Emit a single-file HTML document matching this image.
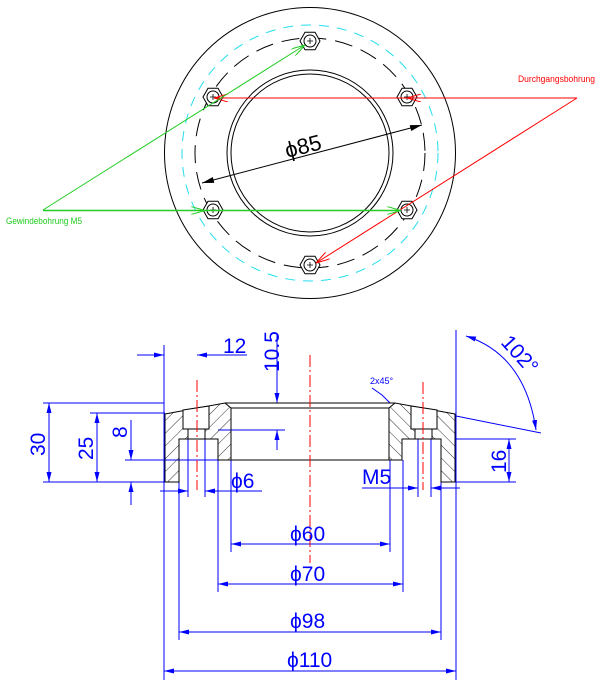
<!DOCTYPE html>
<html><head><meta charset="utf-8"><style>
html,body{margin:0;padding:0;background:#fff;}
svg{display:block;}
.d{font-family:"Liberation Sans",sans-serif;fill:#0000ff;font-size:21px;font-weight:300;}
</style></head><body>
<svg width="604" height="692" viewBox="0 0 604 692" xmlns="http://www.w3.org/2000/svg">
<defs>
<marker id="a" viewBox="0 0 10 6" refX="10" refY="3" markerWidth="10" markerHeight="6" markerUnits="userSpaceOnUse" orient="auto-start-reverse"><path d="M0,0.5 L10,3 L0,5.5z" fill="#0000ff"/></marker>
<marker id="k" viewBox="0 0 12 6" refX="12" refY="3" markerWidth="12" markerHeight="6" markerUnits="userSpaceOnUse" orient="auto-start-reverse"><path d="M0,0 L12,3 L0,6z" fill="#000"/></marker>
<marker id="r" viewBox="0 0 14 8" refX="14" refY="4" markerWidth="14" markerHeight="8" markerUnits="userSpaceOnUse" orient="auto"><path d="M0,0 L14,4 L0,8" fill="none" stroke="#f00" stroke-width="1"/></marker>
<marker id="g" viewBox="0 0 14 8" refX="14" refY="4" markerWidth="14" markerHeight="8" markerUnits="userSpaceOnUse" orient="auto"><path d="M0,0 L14,4 L0,8" fill="none" stroke="#2c2" stroke-width="1"/></marker>
<pattern id="h" width="9" height="9" patternUnits="userSpaceOnUse" patternTransform="rotate(45)"><line x1="0" y1="0" x2="0" y2="9" stroke="#000" stroke-width="0.8"/></pattern>
<g id="hx"><polygon points="10,0 5,8.7 -5,8.7 -10,0 -5,-8.7 5,-8.7" fill="#fff" stroke="#000" stroke-width="1"/><circle r="6" fill="none" stroke="#000" stroke-width="1"/><path d="M-3,0H3M0,-3V3" stroke="#000" stroke-width="0.8"/></g>
</defs>

<!-- TOP VIEW -->
<g fill="none" stroke="#000" stroke-width="1">
<circle cx="310" cy="153" r="145.5"/>
<circle cx="310" cy="153" r="128" stroke="#22ddee" stroke-dasharray="10,8"/>
<circle cx="310" cy="153" r="115" stroke-dasharray="18,9"/>
<circle cx="310" cy="153" r="83"/>
<circle cx="310" cy="153" r="79"/>
</g>
<use href="#hx" x="310" y="41"/>
<use href="#hx" x="213" y="97"/>
<use href="#hx" x="407" y="97"/>
<use href="#hx" x="213" y="210"/>
<use href="#hx" x="407" y="210"/>
<use href="#hx" x="310" y="265"/>
<line x1="202" y1="183" x2="422" y2="125" stroke="#000" stroke-width="1" marker-start="url(#k)" marker-end="url(#k)"/>
<text x="0" y="0" transform="translate(287,158) rotate(-14)" font-family="Liberation Sans,sans-serif" font-size="22" font-weight="300" fill="#000">ϕ85</text>

<!-- red -->
<g stroke="#f00" stroke-width="1" fill="none">
<line x1="577" y1="98" x2="407" y2="98" marker-end="url(#r)"/>
<line x1="407" y1="98" x2="214" y2="98" marker-end="url(#r)"/>
<line x1="577" y1="98" x2="316" y2="263" marker-end="url(#r)"/>
</g>
<text x="518" y="82" font-family="Liberation Sans,sans-serif" font-size="9" fill="#f00" textLength="77" lengthAdjust="spacingAndGlyphs">Durchgangsbohrung</text>
<!-- green -->
<g stroke="#2c2" stroke-width="1" fill="none">
<line x1="43" y1="210" x2="305" y2="45" marker-end="url(#g)"/>
<line x1="43" y1="210.5" x2="205" y2="210.5" stroke-width="1.5" marker-end="url(#g)"/>
<line x1="205" y1="210.5" x2="401" y2="210.5" stroke-width="1.5" marker-end="url(#g)"/>
</g>
<text x="6" y="224" font-family="Liberation Sans,sans-serif" font-size="9" fill="#2c2" textLength="76" lengthAdjust="spacingAndGlyphs">Gewindebohrung M5</text>

<!-- SECTION VIEW -->
<!-- extension & dimension lines (blue) -->
<g stroke="#0000ff" stroke-width="1" fill="none">
<line x1="164" y1="345" x2="164" y2="680"/>
<line x1="456" y1="330" x2="456" y2="680"/>
<line x1="179" y1="482" x2="179" y2="640"/>
<line x1="441" y1="482" x2="441" y2="640"/>
<line x1="218" y1="460" x2="218" y2="592"/>
<line x1="403" y1="460" x2="403" y2="592"/>
<line x1="231" y1="460" x2="231" y2="552"/>
<line x1="390" y1="460" x2="390" y2="552"/>
<line x1="188" y1="429" x2="188" y2="497"/>
<line x1="205" y1="429" x2="205" y2="497"/>
<line x1="418" y1="429" x2="418" y2="497"/>
<line x1="431" y1="429" x2="431" y2="497"/>
<line x1="43" y1="403" x2="164" y2="403"/>
<line x1="43" y1="482" x2="164" y2="482"/>
<line x1="90" y1="413" x2="165" y2="413"/>
<line x1="125" y1="460" x2="218" y2="460"/>
<line x1="218" y1="430" x2="285" y2="430"/>
<line x1="456" y1="439" x2="516" y2="439"/>
<line x1="456" y1="482" x2="516" y2="482"/>
<line x1="456" y1="416" x2="541" y2="433"/>
<line x1="49" y1="403" x2="49" y2="482" marker-start="url(#a)" marker-end="url(#a)"/>
<line x1="97" y1="413" x2="97" y2="482" marker-start="url(#a)" marker-end="url(#a)"/>
<line x1="131" y1="420" x2="131" y2="460" marker-end="url(#a)"/>
<line x1="131" y1="505" x2="131" y2="482" marker-end="url(#a)"/>
<line x1="277" y1="335" x2="277" y2="403" marker-end="url(#a)"/>
<line x1="277" y1="450" x2="277" y2="430" marker-end="url(#a)"/>
<line x1="509" y1="439" x2="509" y2="482" marker-start="url(#a)" marker-end="url(#a)"/>
<line x1="137" y1="355" x2="164" y2="355" marker-end="url(#a)"/>
<line x1="247" y1="355" x2="197" y2="355" marker-end="url(#a)"/>
<line x1="160" y1="491" x2="188" y2="491" marker-end="url(#a)"/>
<line x1="262" y1="491" x2="205" y2="491" marker-end="url(#a)"/>
<line x1="362" y1="488" x2="418" y2="488" marker-end="url(#a)"/>
<line x1="460" y1="488" x2="431" y2="488" marker-end="url(#a)"/>
<line x1="231" y1="544" x2="390" y2="544" marker-start="url(#a)" marker-end="url(#a)"/>
<line x1="218" y1="584" x2="403" y2="584" marker-start="url(#a)" marker-end="url(#a)"/>
<line x1="179" y1="632" x2="441" y2="632" marker-start="url(#a)" marker-end="url(#a)"/>
<line x1="164" y1="671" x2="456" y2="671" marker-start="url(#a)" marker-end="url(#a)"/>
<path d="M466,336 Q525,355 536,430" marker-start="url(#a)" marker-end="url(#a)"/>
<path d="M372,388 L382,395 L390,403"/>
</g>

<!-- part section -->
<g id="half">
<polygon points="165,414 225,403 231,408 231,460 218,460 218,439 179,439 179,482 165,482" fill="url(#h)" stroke="#000" stroke-width="1"/>
<polygon points="183,410 209,406 209,429 183,429" fill="#fff" stroke="#000" stroke-width="1"/>
<rect x="188" y="429" width="17" height="10" fill="#fff" stroke="#000" stroke-width="1"/>
</g>
<use href="#half" transform="translate(620,0) scale(-1,1)"/>
<g stroke="#000" stroke-width="1" fill="none">
<line x1="225" y1="403" x2="395" y2="403"/>
<line x1="231" y1="408" x2="389" y2="408"/>
<line x1="218" y1="460" x2="402" y2="460"/>
</g>
<!-- centerlines -->
<g stroke="#f00" stroke-width="1" stroke-dasharray="12,3,2,3">
<line x1="310" y1="355" x2="310" y2="563"/>
<line x1="197" y1="380" x2="197" y2="490"/>
<line x1="423" y1="382" x2="423" y2="490"/>
</g>

<!-- texts -->
<text class="d" x="223" y="353">12</text>
<text class="d" transform="translate(279,372) rotate(-90)">10.5</text>
<text class="d" transform="translate(45,456) rotate(-90)">30</text>
<text class="d" transform="translate(93,460) rotate(-90)">25</text>
<text class="d" transform="translate(127,438) rotate(-90)">8</text>
<text class="d" transform="translate(506,473) rotate(-90)">16</text>
<text class="d" x="231" y="488">ϕ6</text>
<text class="d" x="362" y="484">M5</text>
<text class="d" x="290" y="541">ϕ60</text>
<text class="d" x="290" y="581">ϕ70</text>
<text class="d" x="290" y="628">ϕ98</text>
<text class="d" x="287" y="667">ϕ110</text>
<text class="d" transform="translate(500,343) rotate(48)">102°</text>
<text x="370" y="384" font-family="Liberation Sans,sans-serif" font-size="9" fill="#0000ff">2x45°</text>
</svg>
</body></html>
